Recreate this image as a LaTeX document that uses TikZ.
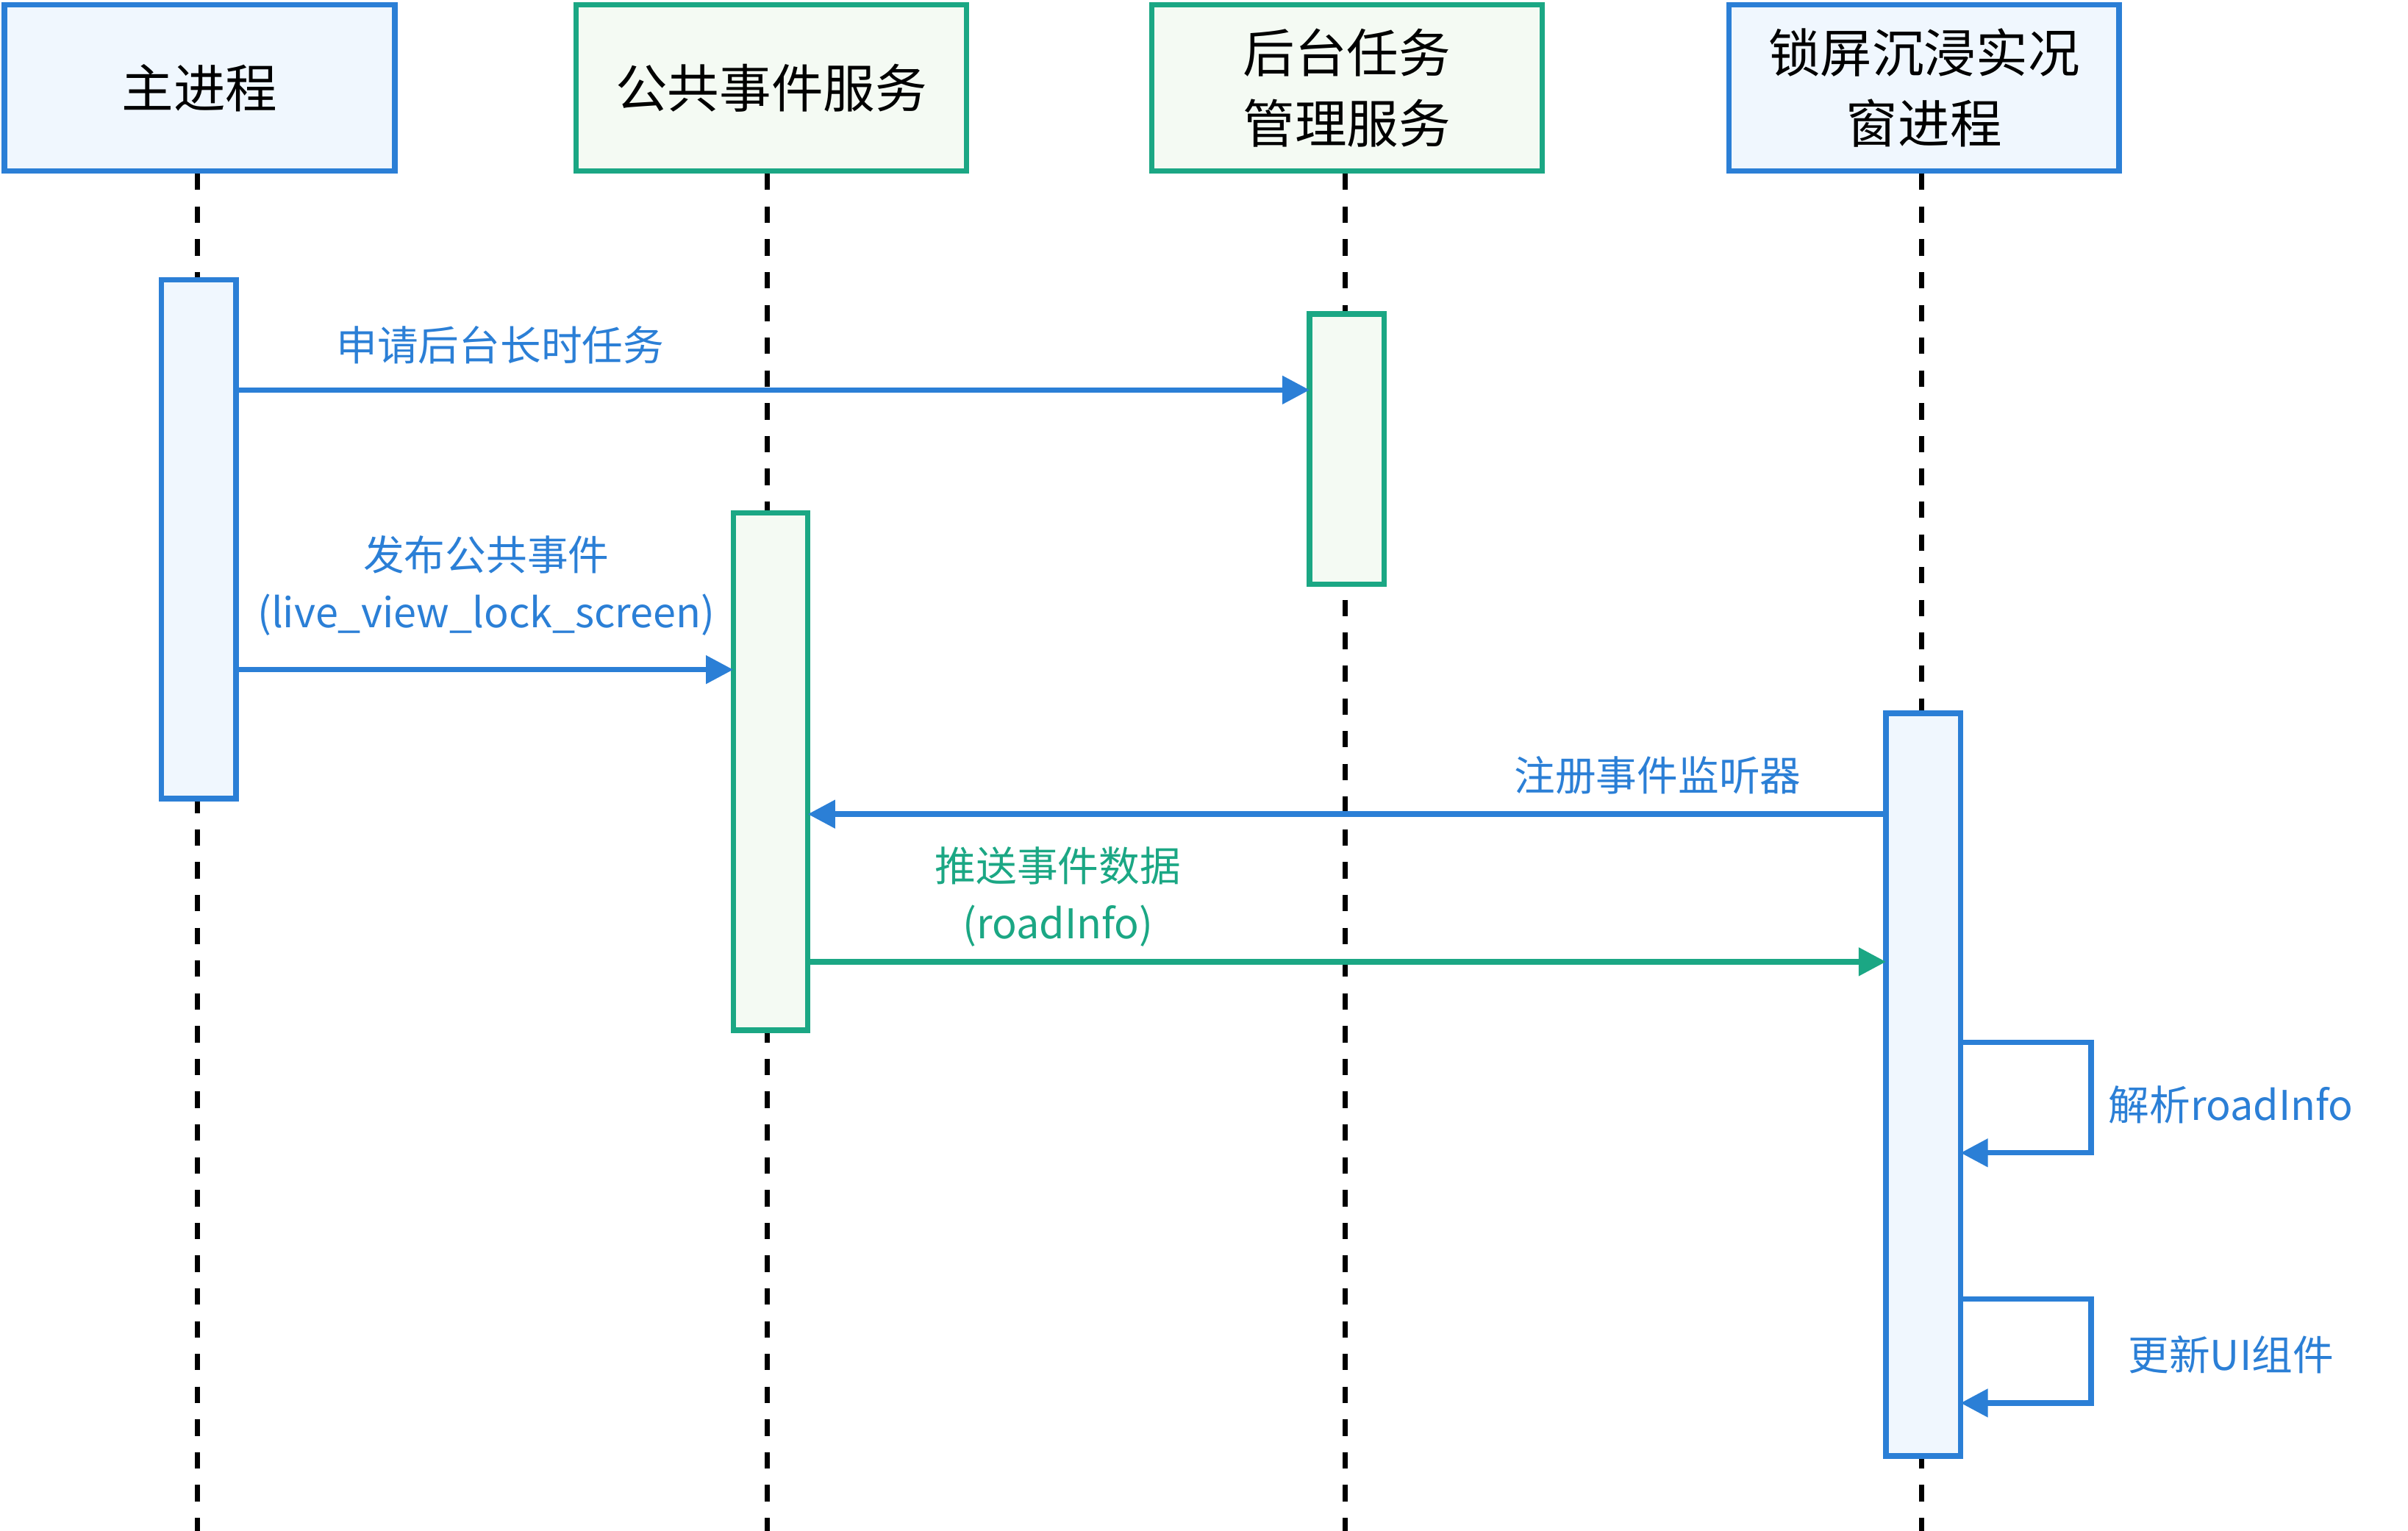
\documentclass[tikz,border=0pt]{standalone}
\usepackage{fontspec}
\setmainfont{Noto Sans CJK SC}
\usepackage{xcolor}
\usepackage{tikz}
\usetikzlibrary{arrows.meta}
\definecolor{lblue}{HTML}{2B7FD6}
\definecolor{lgreen}{HTML}{1BA784}
\definecolor{fblue}{HTML}{F0F7FE}
\definecolor{fgreen}{HTML}{F4FAF3}

\begin{document}
\begin{tikzpicture}[x=0.01cm,y=-0.01cm]
	\tikzstyle{head}=[draw, line width=1pt, minimum width=2.51cm, minimum height=1.07cm, align=center, font=\fontsize{9.5}{13}\selectfont]
	\tikzstyle{life}=[dashed, line width=0.9pt, dash pattern=on 3pt off 3pt]
	\tikzstyle{act}=[draw, line width=1pt]
	\tikzstyle{msg}=[line width=1pt, -{Triangle[length=5pt,width=5pt]}]
	\tikzstyle{lbl}=[font=\fontsize{7.5}{10.5}\selectfont, align=center]
	\useasboundingbox (0,0) rectangle (1550,985);
	
	\node[head, draw=lblue, fill=fblue]   (main) at (128.5,56.5)  {主进程};
	\node[head, draw=lgreen, fill=fgreen] (ces)  at (496.5,56.5)  {公共事件服务};
	\node[head, draw=lgreen, fill=fgreen] (bgt)  at (867,56.5)    {后台任务\\管理服务};
	\node[head, draw=lblue, fill=fblue]   (lock) at (1238.5,56.5) {锁屏沉浸实况\\窗进程};
	
	\coordinate (mainE) at (127,988);
	\coordinate (cesE)  at (494,988);
	\coordinate (bgtE)  at (866,988);
	\coordinate (lockE) at (1237,988);
	\draw[life] (main.south -| mainE) -- (mainE);
	\draw[life] (ces.south -| cesE) -- (cesE);
	\draw[life] (bgt.south -| bgtE) -- (bgtE);
	\draw[life] (lock.south -| lockE) -- (lockE);
	
	\draw[act, draw=lblue, fill=fblue]   (104,180) rectangle (152,514);
	\draw[act, draw=lgreen, fill=fgreen] (472,330) rectangle (520,663);
	\draw[act, draw=lgreen, fill=fgreen] (843,202) rectangle (891,376);
	\draw[act, draw=lblue, fill=fblue]   (1214,459) rectangle (1262,937);
	
	\coordinate (a1) at (152,251);  \coordinate (b1) at (843,251);
	\coordinate (a2) at (152,431);  \coordinate (b2) at (472,431);
	\coordinate (a3) at (1214,524); \coordinate (b3) at (520,524);
	\coordinate (a4) at (520,619);  \coordinate (b4) at (1214,619);
	\coordinate (a5) at (1262,671); \coordinate (b5) at (1262,742);
	\coordinate (a6) at (1262,836); \coordinate (b6) at (1262,903);
	
	\draw[msg, lblue] (a1) -- (b1);
	\draw[msg, lblue] (a2) -- (b2);
	\draw[msg, lblue] (a3) -- (b3);
	\draw[msg, lgreen] (a4) -- (b4);
	\draw[msg, lblue] (a5) -- (1346,671) -- (1346,742) -- (b5);
	\draw[msg, lblue] (a6) -- (1346,836) -- (1346,903) -- (b6);
	
	\node[lbl, text=lblue]  (t1) at (322,222)  {申请后台长时任务};
	\node[lbl, text=lblue]  (t2) at (313,377)  {发布公共事件\\(live\_view\_lock\_screen)};
	\node[lbl, text=lblue]  (t3) at (1067,499) {注册事件监听器};
	\node[lbl, text=lgreen] (t4) at (681,577)  {推送事件数据\\(roadInfo)};
	\node[lbl, text=lblue]  (t5) at (1436,711) {解析roadInfo};
	\node[lbl, text=lblue]  (t6) at (1436,872) {更新UI组件};
\end{tikzpicture}
\end{document}
